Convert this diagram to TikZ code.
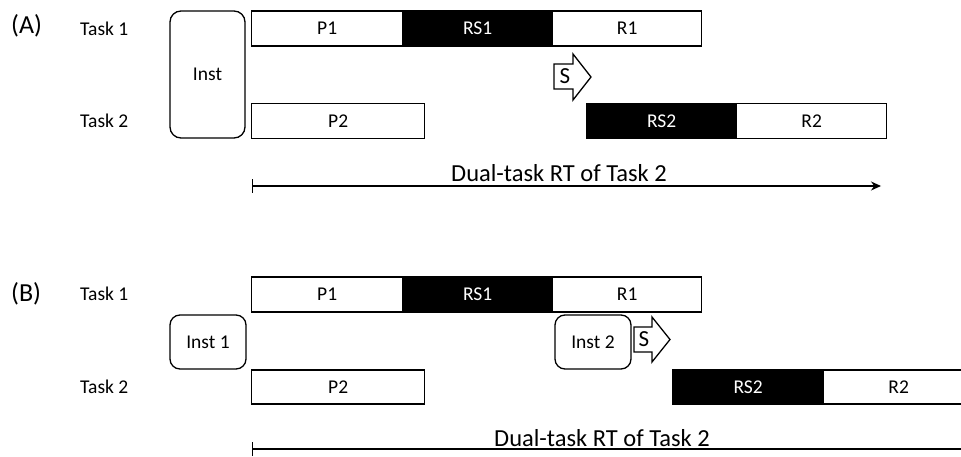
\documentclass[tikz,border=0pt]{standalone}
\usepackage{fontspec}
\setmainfont{Carlito}
\usetikzlibrary{arrows.meta}

\tikzset{
  seg/.style={draw=black, line width=1.3pt, anchor=west, inner sep=0pt,
    minimum height=35pt, font=\fontsize{19.5}{19.5}\selectfont},
  plainseg/.style={seg, fill=white},
  rsseg/.style={seg, fill=black, text=white},
  instbox/.style={draw=black, line width=1.3pt, rounded corners=11pt, inner sep=0pt,
    font=\fontsize{19.5}{19.5}\selectfont},
  tasklbl/.style={anchor=west, inner sep=0pt, font=\fontsize{19.5}{19.5}\selectfont},
  panellbl/.style={anchor=west, inner sep=0pt, font=\fontsize{26}{26}\selectfont},
  rtlbl/.style={anchor=base, inner sep=0pt, font=\fontsize{24.5}{24.5}\selectfont},
  rtline/.style={line width=1.2pt, {Bar[width=14pt,line width=1.2pt]}-{Stealth[length=10pt,width=9pt]}},
  rtlineopen/.style={line width=1.2pt, {Bar[width=14pt,line width=1.2pt]}-},
  sarrow/.style={draw=black, line width=1.3pt, fill=white, line join=miter},
  slbl/.style={inner sep=0pt, font=\fontsize{23}{23}\selectfont}
}

\begin{document}
\begin{tikzpicture}[x=1pt,y=-1pt]
\useasboundingbox (0,0) rectangle (961,457);
\clip (0,0) rectangle (961,457);
\fill[white] (0,0) rectangle (961,457);

% ---------------- Panel (A) ----------------
\node[panellbl] (labA) at (11,25.5) {(A)};
\node[tasklbl] (a1lbl) at (80,29) {Task 1};
\node[tasklbl] (a2lbl) at (80,121) {Task 2};

\node[instbox, minimum width=75pt, minimum height=127pt] (instA) at (207.5,74.5) {Inst};

\node[plainseg, minimum width=151pt] (aP1) at (251,28.5) {P1};
\node[rsseg, minimum width=150pt] (aRS1) at (402,28.5) {RS1};
\node[plainseg, minimum width=149pt] (aR1) at (552,28.5) {R1};

\node[plainseg, minimum width=173pt] (aP2) at (251,121) {P2};
\node[rsseg, minimum width=150pt] (aRS2) at (586,121) {RS2};
\node[plainseg, minimum width=150pt] (aR2) at (736,121) {R2};

% switch arrow
\draw[sarrow] (554,64) -- (573,64) -- (573,54) -- (591,77) -- (573,100)
  -- (573,89) -- (554,89) -- cycle;
\node[slbl] (sA) at (565,76.5) {S};

% response-time interval
\coordinate (rtAstart) at (251.5,186);
\coordinate (rtAend) at (881,186);
\draw[rtline] (rtAstart) -- (rtAend);
\node[rtlbl] (rtAlbl) at (559,182) {Dual-task RT of Task 2};

% ---------------- Panel (B) ----------------
\node[panellbl] (labB) at (11,293.5) {(B)};
\node[tasklbl] (b1lbl) at (80,294) {Task 1};
\node[tasklbl] (b2lbl) at (80,387) {Task 2};

\node[instbox, rounded corners=10pt, minimum width=76pt, minimum height=54pt] (inst1) at (208,342) {Inst 1};
\node[instbox, rounded corners=10pt, minimum width=76pt, minimum height=54pt] (inst2) at (593,342) {Inst 2};

\node[plainseg, minimum width=151pt] (bP1) at (251,294.5) {P1};
\node[rsseg, minimum width=150pt] (bRS1) at (402,294.5) {RS1};
\node[plainseg, minimum width=149pt] (bR1) at (552,294.5) {R1};

\node[plainseg, minimum width=173pt, minimum height=34pt] (bP2) at (251,387) {P2};
\node[rsseg, minimum width=151pt, minimum height=34pt] (bRS2) at (672,387) {RS2};
\node[plainseg, minimum width=150pt, minimum height=34pt] (bR2) at (823,387) {R2};

% switch arrow
\draw[sarrow] (634,327) -- (652,327) -- (652,317) -- (670,339.5) -- (652,362)
  -- (652,352) -- (634,352) -- cycle;
\node[slbl] (sB) at (644,339.5) {S};

% response-time interval (runs past the right edge)
\coordinate (rtBstart) at (251.5,449);
\coordinate (rtBend) at (975,449);
\draw[rtlineopen] (rtBstart) -- (rtBend);
\node[rtlbl] (rtBlbl) at (602,446) {Dual-task RT of Task 2};
\end{tikzpicture}
\end{document}
